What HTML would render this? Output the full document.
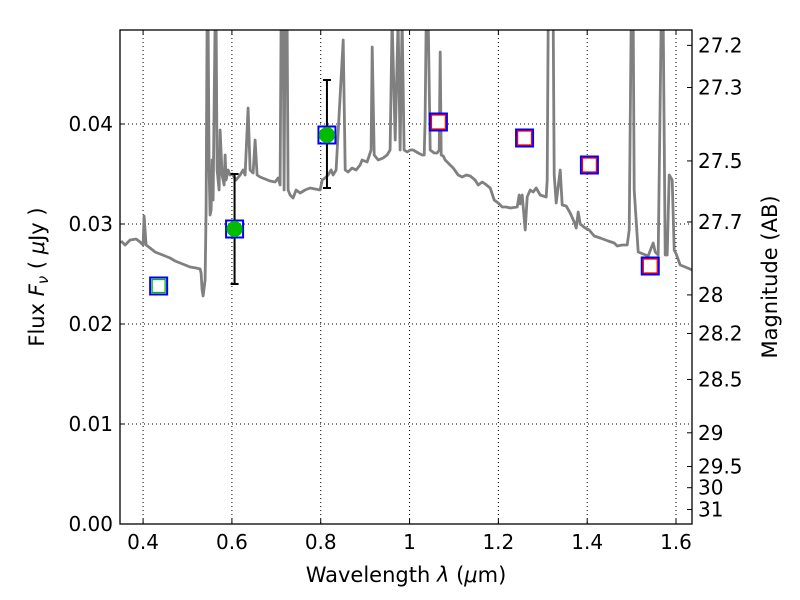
<!DOCTYPE html>
<html><head><meta charset="utf-8"><style>
body{margin:0;background:#fff;}
svg{display:block;font-family:"DejaVu Sans","Liberation Sans",sans-serif;}
</style></head><body>
<svg id="chart" width="800" height="600">
<defs><clipPath id="clip"><rect x="120" y="30" width="572" height="494"/></clipPath></defs>
<rect x="0" y="0" width="800" height="600" fill="#fff"/>
<g id="grid"></g>
<g id="series" clip-path="url(#clip)"></g>
<rect x="120" y="30" width="572" height="494" fill="none" stroke="#000" stroke-width="1.3"/>
<g id="axes"></g>
<text x="406" y="582" font-size="21" text-anchor="middle">Wavelength  <tspan font-style="italic">λ</tspan> (<tspan font-style="italic">μ</tspan>m)</text>
<text transform="translate(44,277) rotate(-90)" font-size="21" text-anchor="middle">Flux  <tspan font-style="italic">F<tspan font-size="15" dy="4">ν</tspan></tspan><tspan dy="-4">  ( </tspan><tspan font-style="italic">μ</tspan>Jy )</text>
<text transform="translate(777,277) rotate(-90)" font-size="21" text-anchor="middle">Magnitude (AB)</text>
</svg>
<script>
const xTicks=[0.4,0.6,0.8,1.0,1.2,1.4,1.6];
const xTickLabels=["0.4","0.6","0.8","1","1.2","1.4","1.6"];
const yTicks=[0,0.01,0.02,0.03,0.04];
const yTickLabels=["0.00","0.01","0.02","0.03","0.04"];
const magTicks=[27.2,27.3,27.5,27.7,28,28.2,28.5,29,29.5,30,31];
const specPx=[[121,241],[125,245],[130,240],[136,239],[140,242],[143,245],[144,216],[146,245],[150,248],[155,252],[160,254],[165,256],[170,258],[175,261],[180,263],[185,265],[190,267],[196,268],[200,269],[201,273],[202,290],[203,296],[205,280],[206,210],[207,20],[208,20],[209,170],[210,215],[211,210],[212,160],[213,200],[215,20],[216,20],[217,170],[219,190],[220,130],[222,175],[224,185],[225,155],[226,180],[228,170],[230,175],[232,174],[236,180],[240,175],[243,170],[245,175],[248,108],[250,170],[253,173],[255,140],[257,175],[260,177],[265,179],[270,181],[275,182],[278,178],[280,185],[281,20],[283,20],[284,190],[285,20],[287,20],[288,190],[290,195],[293,198],[296,190],[300,193],[305,190],[310,188],[315,189],[320,190],[322,180],[325,178],[328,175],[331,170],[333,175],[336,170],[343,40],[345,170],[348,172],[352,168],[356,170],[360,165],[362,160],[367,162],[371,150],[372,47],[374,155],[378,160],[383,158],[387,155],[390,150],[392,20],[395,140],[398,20],[400,150],[402,20],[404,150],[407,152],[410,150],[413,150],[418,153],[422,155],[424,155],[425,120],[426,20],[428,20],[430,150],[434,153],[437,153],[439,150],[440,52],[441,155],[443,156],[445,160],[450,165],[453,168],[458,175],[462,177],[466,175],[470,176],[475,180],[478,185],[482,182],[485,184],[490,188],[494,200],[498,203],[502,207],[506,207],[510,208],[517,207],[519,195],[520,204],[522,195],[525,230],[527,197],[530,190],[533,192],[536,188],[540,195],[546,197],[547,180],[548,20],[553,20],[554,175],[556,203],[560,170],[562,205],[566,206],[570,213],[574,222],[576,228],[578,212],[580,224],[585,228],[589,230],[594,236],[600,238],[608,241],[614,243],[617,246],[622,245],[627,245],[629,230],[631,20],[633,20],[634,190],[638,252],[643,254],[648,256],[651,248],[653,243],[655,252],[658,255],[661,20],[663,20],[665,255],[667,255],[669,175],[672,180],[674,250],[676,254],[680,265],[685,267],[692,270]];
// convert pixel-read spectrum into data values
const specWave=specPx.map(p=>+(0.4+(p[0]-143)/444).toFixed(4));
const specFlux=specPx.map(p=>+((524-p[1])/10000).toFixed(5));
const photWave=[0.435,0.606,0.814,1.065,1.259,1.405,1.542];
const photFlux=[0.0238,0.0295,0.0389,0.0402,0.0386,0.0359,0.0258];
const photType=["upper","detect","detect","model","model","model","model"];
const errLow=[null,0.0240,0.0336,null,null,null,null];
const errHigh=[null,0.0350,0.0444,null,null,null,null];

const X0=0.348,X1=1.636,Y0=0,Y1=0.0494;
const L=120,R=692,T=30,B=524;
const sx=v=>L+(v-X0)/(X1-X0)*(R-L);
const sy=v=>B-(v-Y0)/(Y1-Y0)*(B-T);
const magToFlux=m=>Math.pow(10,(23.9-m)/2.5);
const NS="http://www.w3.org/2000/svg";
function mk(tag,attrs,parent){const e=document.createElementNS(NS,tag);for(const k in attrs)e.setAttribute(k,attrs[k]);parent.appendChild(e);return e;}
const grid=document.getElementById('grid'),axes=document.getElementById('axes'),ser=document.getElementById('series');

xTicks.forEach((t,i)=>{const x=sx(t);
 const g=mk('line',{x1:x,x2:x,y1:T,y2:B,stroke:'#000','stroke-dasharray':'1,3','stroke-width':1},grid);
 
 mk('line',{x1:x,x2:x,y1:B,y2:B-5,stroke:'#000'},axes);mk('line',{x1:x,x2:x,y1:T,y2:T+5,stroke:'#000'},axes);
 const tx=mk('text',{x:x,y:B+25,'font-size':20,'text-anchor':'middle'},axes);tx.textContent=xTickLabels[i];
 });
yTicks.forEach((t,i)=>{const y=sy(t);
 const g=mk('line',{x1:L,x2:R,y1:y,y2:y,stroke:'#000','stroke-dasharray':'1,3','stroke-width':1},grid);
 
 mk('line',{x1:L,x2:L+5,y1:y,y2:y,stroke:'#000'},axes);
 const tx=mk('text',{x:L-7,y:y+7,'font-size':20,'text-anchor':'end'},axes);tx.textContent=yTickLabels[i];
 });
magTicks.forEach(m=>{const y=sy(magToFlux(m));
 mk('line',{x1:R,x2:R-5,y1:y,y2:y,stroke:'#000'},axes);
 const tx=mk('text',{x:R+6,y:y+7,'font-size':20},axes);tx.textContent=String(m);
 });

const pts=specWave.map((w,i)=>sx(w).toFixed(1)+','+sy(specFlux[i]).toFixed(1)).join(' ');
const pl=mk('polyline',{points:pts,fill:'none',stroke:'#808080','stroke-width':2.8,'stroke-linejoin':'round'},ser);


photWave.forEach((w,i)=>{const x=sx(w),y=sy(photFlux[i]);
 if(errLow[i]!=null){const y1=sy(errLow[i]),y2=sy(errHigh[i]);
  const e=mk('line',{x1:x,x2:x,y1:y1,y2:y2,stroke:'#000','stroke-width':2},ser);
  
  mk('line',{x1:x-4,x2:x+4,y1:y1,y2:y1,stroke:'#000','stroke-width':2},ser);
  mk('line',{x1:x-4,x2:x+4,y1:y2,y2:y2,stroke:'#000','stroke-width':2},ser);}
 const b=mk('rect',{x:x-8.5,y:y-8.5,width:17,height:17,fill:'none',stroke:'#0000ff','stroke-width':2},ser);
 
 let m;
 if(photType[i]==='detect'){m=mk('circle',{cx:x,cy:y,r:8,fill:'#00bb00'},ser);}
 else if(photType[i]==='upper'){m=mk('rect',{x:x-6.5,y:y-6.5,width:13,height:13,fill:'#fff',stroke:'#00bb00','stroke-width':1.3},ser);}
 else {m=mk('rect',{x:x-7,y:y-7,width:14,height:14,fill:'#fff',stroke:'#ff0000','stroke-width':1.3},ser);}
 });
</script>
</body></html>
